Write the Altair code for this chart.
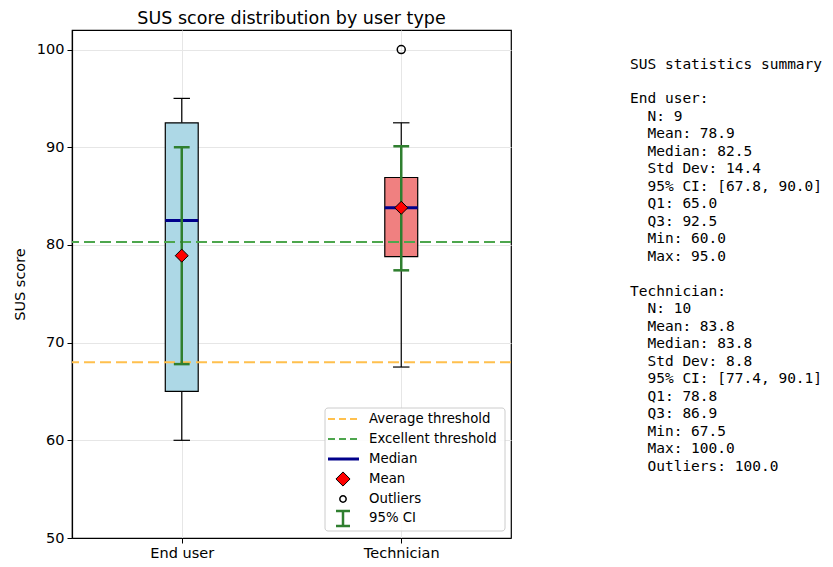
import altair as alt
import pandas as pd

# ---------------- data ----------------
categories = ["End user", "Technician"]
positions = [1, 2]
n_values = [9, 10]
means = [78.9, 83.8]
medians = [82.5, 83.8]
std_devs = [14.4, 8.8]
ci_low = [67.8, 77.4]
ci_high = [90.0, 90.1]
q1 = [65.0, 78.8]
q3 = [92.5, 86.9]
whisker_low = [60.0, 67.5]
whisker_high = [95.0, 92.5]
data_min = [60.0, 67.5]
data_max = [95.0, 100.0]
outlier_pos = [2]
outlier_values = [100.0]
box_colors = ["#ADD8E6", "#F08080"]
thresholds = [68.0, 80.3]
threshold_names = ["Average threshold", "Excellent threshold"]
threshold_colors = ["#FFC04D", "#4DA64D"]
legend_labels = ["Average threshold", "Excellent threshold", "Median", "Mean", "Outliers", "95% CI"]

BOX_HALF = 0.075
CAP_HALF = 0.0375
CI_CAP_HALF = 0.036
CI_GREEN = "#2F7F2F"

df = pd.DataFrame({
    "cat": categories, "pos": positions, "mean": means, "median": medians,
    "ci_low": ci_low, "ci_high": ci_high, "q1": q1, "q3": q3,
    "wlo": whisker_low, "whi": whisker_high, "color": box_colors,
})
df["x_lo"] = df["pos"] - BOX_HALF
df["x_hi"] = df["pos"] + BOX_HALF
df["c_lo"] = df["pos"] - CAP_HALF
df["c_hi"] = df["pos"] + CAP_HALF
df["ci_lo_x"] = df["pos"] - CI_CAP_HALF
df["ci_hi_x"] = df["pos"] + CI_CAP_HALF

out_df = pd.DataFrame({"pos": outlier_pos, "val": outlier_values})
thr_df = pd.DataFrame({"name": threshold_names, "val": thresholds, "color": threshold_colors})

xscale = alt.Scale(domain=[0.5, 2.5], nice=False, zero=False)
yscale = alt.Scale(domain=[50, 102], nice=False, zero=False)
label_expr = "datum.value == 1 ? 'End user' : datum.value == 2 ? 'Technician' : ''"
xaxis = alt.Axis(values=positions, labelExpr=label_expr, title=None, grid=True)
yaxis = alt.Axis(values=[50, 60, 70, 80, 90, 100], title="SUS score", grid=True, format="d")


def X(f):
    return alt.X(f, type="quantitative", scale=xscale, axis=xaxis)


def Y(f):
    return alt.Y(f, type="quantitative", scale=yscale, axis=yaxis)


base = alt.Chart(df)

whisk_lo = base.mark_rule(color="black", strokeWidth=1.2).encode(x=X("pos"), y=Y("wlo"), y2="q1")
whisk_hi = base.mark_rule(color="black", strokeWidth=1.2).encode(x=X("pos"), y=Y("q3"), y2="whi")
cap_lo = base.mark_rule(color="black", strokeWidth=1.2).encode(x=X("c_lo"), x2="c_hi", y=Y("wlo"))
cap_hi = base.mark_rule(color="black", strokeWidth=1.2).encode(x=X("c_lo"), x2="c_hi", y=Y("whi"))
box = base.mark_rect(stroke="black", strokeWidth=1.2).encode(
    x=X("x_lo"), x2="x_hi", y=Y("q1"), y2="q3",
    fill=alt.Color("color:N", scale=None))
med = base.mark_rule(color="#00008B", strokeWidth=3).encode(x=X("x_lo"), x2="x_hi", y=Y("median"))

thr = alt.Chart(thr_df).mark_rule(strokeWidth=2, strokeDash=[11, 5]).encode(
    y=Y("val"), color=alt.Color("color:N", scale=None))

ci = base.mark_rule(color=CI_GREEN, strokeWidth=2.5).encode(x=X("pos"), y=Y("ci_low"), y2="ci_high")
ci_cap_lo = base.mark_rule(color=CI_GREEN, strokeWidth=2.5).encode(x=X("ci_lo_x"), x2="ci_hi_x", y=Y("ci_low"))
ci_cap_hi = base.mark_rule(color=CI_GREEN, strokeWidth=2.5).encode(x=X("ci_lo_x"), x2="ci_hi_x", y=Y("ci_high"))

mean_pt = base.mark_point(shape="diamond", filled=True, fill="red", stroke="black",
                          strokeWidth=1, size=170, opacity=1).encode(x=X("pos"), y=Y("mean"))
out_pt = alt.Chart(out_df).mark_point(shape="circle", filled=False, stroke="black",
                                      strokeWidth=1.5, size=64, opacity=1).encode(x=X("pos"), y=Y("val"))

# ---------------- legend (drawn in pixel space) ----------------
one = alt.Chart(pd.DataFrame({"a": [0]}))
lg_box = one.mark_rect(fill="white", fillOpacity=0.85, stroke="#CCCCCC", strokeWidth=1, cornerRadius=3).encode(
    x=alt.value(253), x2=alt.value(433), y=alt.value(378), y2=alt.value(501))
row_y = [389, 409, 429, 449, 469, 488]
lg_avg = one.mark_rule(color=threshold_colors[0], strokeWidth=2, strokeDash=[7, 4]).encode(
    x=alt.value(256), x2=alt.value(287), y=alt.value(row_y[0]))
lg_exc = one.mark_rule(color=threshold_colors[1], strokeWidth=2, strokeDash=[7, 4]).encode(
    x=alt.value(256), x2=alt.value(287), y=alt.value(row_y[1]))
lg_med = one.mark_rule(color="#00008B", strokeWidth=3).encode(
    x=alt.value(256), x2=alt.value(287), y=alt.value(row_y[2]))
lg_mean = one.mark_point(shape="diamond", filled=True, fill="red", stroke="black", strokeWidth=1,
                         size=200, opacity=1).encode(x=alt.value(271), y=alt.value(row_y[3]))
lg_out = one.mark_point(shape="circle", filled=False, stroke="black", strokeWidth=1.5,
                        size=40, opacity=1).encode(x=alt.value(271), y=alt.value(row_y[4]))
lg_ci = one.mark_rule(color=CI_GREEN, strokeWidth=2.5).encode(
    x=alt.value(271), y=alt.value(481), y2=alt.value(496))
lg_ci_c1 = one.mark_rule(color=CI_GREEN, strokeWidth=2.5).encode(
    x=alt.value(264), x2=alt.value(278), y=alt.value(481))
lg_ci_c2 = one.mark_rule(color=CI_GREEN, strokeWidth=2.5).encode(
    x=alt.value(264), x2=alt.value(278), y=alt.value(496))
lg_df = pd.DataFrame({"label": legend_labels, "py": row_y})
lg_text = alt.Chart(lg_df).mark_text(align="left", baseline="middle", fontSize=13.3,
                                     font="DejaVu Sans", color="black").encode(
    x=alt.value(297), y=alt.Y("py:Q", scale=None), text="label:N")

# ---------------- summary text ----------------
lines = ["SUS statistics summary", ""]
for i, c in enumerate(categories):
    lines.append(f"{c}:")
    lines.append(f"  N: {n_values[i]}")
    lines.append(f"  Mean: {means[i]:.1f}")
    lines.append(f"  Median: {medians[i]:.1f}")
    lines.append(f"  Std Dev: {std_devs[i]:.1f}")
    lines.append(f"  95% CI: [{ci_low[i]:.1f}, {ci_high[i]:.1f}]")
    lines.append(f"  Q1: {q1[i]:.1f}")
    lines.append(f"  Q3: {q3[i]:.1f}")
    lines.append(f"  Min: {data_min[i]:.1f}")
    lines.append(f"  Max: {data_max[i]:.1f}")
    outs = [v for p, v in zip(outlier_pos, outlier_values) if p == positions[i]]
    if outs:
        lines.append("  Outliers: " + ", ".join(f"{v:.1f}" for v in outs))
    lines.append("")

SUM_FS = 14.5
CHAR_W = 0.602 * SUM_FS
sum_df = pd.DataFrame({"raw": lines})
sum_df["py"] = 38.5 + 17.48 * sum_df.index
sum_df["indent"] = sum_df["raw"].str.len() - sum_df["raw"].str.lstrip(" ").str.len()
sum_df["px"] = 558 + CHAR_W * sum_df["indent"]
sum_df["line"] = sum_df["raw"].str.strip()
sum_df = sum_df[sum_df["line"] != ""][["line", "px", "py"]]

summary_text = alt.Chart(sum_df).mark_text(
    align="left", baseline="alphabetic", fontSize=SUM_FS, font="DejaVu Sans Mono", color="black"
).encode(x=alt.X("px:Q", scale=None), y=alt.Y("py:Q", scale=None), text="line:N")

chart = alt.layer(
    whisk_lo, whisk_hi, cap_lo, cap_hi, box, med, thr, ci, ci_cap_lo, ci_cap_hi, mean_pt, out_pt,
    lg_box, lg_avg, lg_exc, lg_med, lg_mean, lg_out, lg_ci, lg_ci_c1, lg_ci_c2, lg_text,
    summary_text,
).properties(
    width=439, height=508,
    title=alt.TitleParams("SUS score distribution by user type", fontSize=17.5, fontWeight="normal",
                          font="DejaVu Sans", color="black", anchor="middle", offset=3),
    autosize=alt.AutoSizeParams(type="none"),
    padding={"left": 64, "top": 22, "right": 314, "bottom": 21},
).configure_view(
    stroke="black", strokeWidth=1.2
).configure_axis(
    domainColor="black", domainWidth=1.2, tickColor="black", tickSize=5, tickWidth=1,
    labelFont="DejaVu Sans", labelFontSize=14.5, labelColor="black", labelPadding=3,
    titleFont="DejaVu Sans", titleFontSize=14.5, titleFontWeight="normal", titleColor="black",
    titlePadding=9, gridColor="#E6E6E6", gridWidth=1,
)

chart.save("out.html", embed_options={"renderer": "svg", "actions": False})
